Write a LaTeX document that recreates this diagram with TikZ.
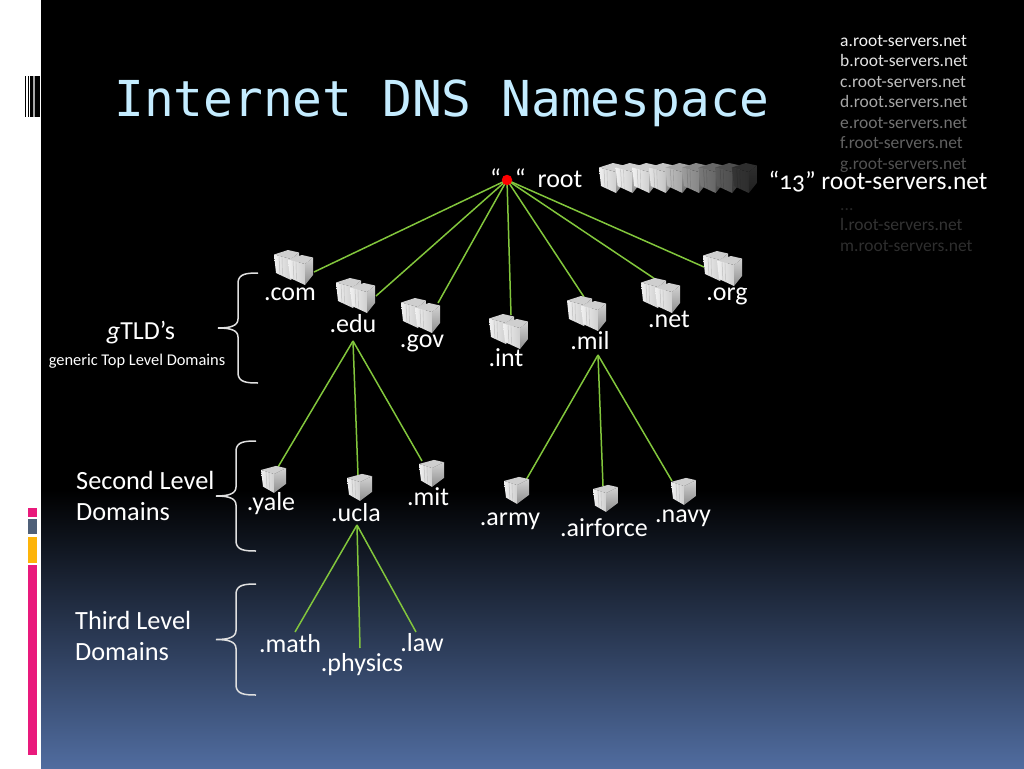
\documentclass[tikz,border=0pt]{standalone}
\usepackage{fontspec}
\setmainfont[Numbers=OldStyle]{Carlito}
\newfontfamily\titlefont{DejaVu Sans Mono}
\begin{document}
\definecolor{titleblue}{HTML}{C4ECFF}
\definecolor{linkgreen}{HTML}{82C63C}
\definecolor{panelblue}{HTML}{506C9F}
\definecolor{barpink}{HTML}{E91A7C}
\definecolor{barslate}{HTML}{4F6079}
\definecolor{baramber}{HTML}{FDB40A}
\definecolor{baseA}{HTML}{F0F0F0}
\definecolor{baseB}{HTML}{D2D2D2}
\definecolor{baseC}{HTML}{8E8E8E}
\definecolor{baseD}{HTML}{CFCFCF}
\definecolor{baseE}{HTML}{BEBEBE}
% x, y, yscale, fade, left extent, back offset, right extent
\newcommand{\srvcube}[7]{%
  \begin{scope}[shift={(#1,#2)},yscale=#3]
    \colorlet{cubeA}{black!#4!baseA}
    \colorlet{cubeB}{black!#4!baseB}
    \colorlet{cubeC}{black!#4!baseC}
    \colorlet{cubeD}{black!#4!baseD}
    \colorlet{cubeE}{black!#4!baseE}
    \fill[cubeD] (0,0) -- (-#5,-4.5) -- (#6,-9) -- (#7,-6.5) -- cycle;
    \shade[left color=cubeA,right color=cubeD] (0,0) -- (-#5,-4.5) -- ({-#5+2},14) -- (0,21) -- cycle;
    \shade[top color=cubeB,bottom color=cubeC] (0,0) -- (#7,-6.5) -- (#7,11) -- (0,21) -- cycle;
    \draw[cubeE,line width=.5pt] ({-#5+5},-2.5) -- ({-#5+6},16);
    \draw[cubeE,line width=.4pt] ({-#5+8},-2) -- ({-#5+8.5},17);
  \end{scope}}
\newcommand{\srvdouble}[2]{\srvcube{#1-14}{#2-5}{1}{0}{17}{-3}{8}\srvcube{#1}{#2}{1}{0}{17}{-3}{8}}
\newcommand{\srvsingle}[2]{\srvcube{#1}{#2}{.9}{0}{13}{2}{12}}
\newcommand{\bracepath}[3]{% x, ytop, ybottom
  \draw[bracestyle] (#1+20,#2) .. controls (#1+8,#2) and (#1+1,#2+1) .. (#1,#2+9)
    -- (#1,{(#2+#3)/2-9}) .. controls (#1,{(#2+#3)/2-2}) and (#1-8,{(#2+#3)/2}) .. (#1-20,{(#2+#3)/2})
    .. controls (#1-8,{(#2+#3)/2}) and (#1,{(#2+#3)/2+2}) .. (#1,{(#2+#3)/2+9})
    -- (#1,#3-9) .. controls (#1+1,#3-1) and (#1+8,#3) .. (#1+20,#3);}
\begin{tikzpicture}[x=1pt,y=-1pt,
  bracestyle/.style={draw=white!88!black,line width=1.5pt},
  link/.style={draw=linkgreen,line width=1.5pt},
  lab/.style={text=white,font=\fontsize{26}{26}\selectfont,inner sep=0pt,anchor=base},
  sidelab/.style={text=white,font=\fontsize{26.3}{31}\selectfont,inner sep=0pt,align=left,anchor=west},
  smalllab/.style={text=white,font=\fontsize{16.4}{16}\selectfont,inner sep=0pt,anchor=base},
  listlab/.style={font=\fontsize{17.5}{17}\selectfont,inner sep=0pt,anchor=base west},
  titlelab/.style={text=titleblue,font=\titlefont\fontsize{49.5}{50}\selectfont,inner sep=0pt,anchor=base west}]
\useasboundingbox (0,0) rectangle (1024,768);
% background
\fill[white] (0,0) rectangle (1024,768);
\fill[black] (41,0) rectangle (1024,490);
\shade[top color=black,bottom color=panelblue] (41,490) rectangle (1024,768);
% left decoration
\fill[black] (25,76) rectangle (26,117);
\fill[black] (28,76) rectangle (29,117);
\fill[black] (30,76) rectangle (33,117);
\fill[gray!70] (33,76) rectangle (35,117);
\fill[black] (35,76) rectangle (40,117);
\fill[barpink] (28,508) rectangle (37,517);
\fill[barslate] (28,519) rectangle (37,534);
\fill[baramber] (28,537) rectangle (37,563);
\fill[barpink] (28,565) rectangle (37,755);
% title
\node[titlelab] (title) at (114,116) {Internet DNS Namespace};
% server list
\node[listlab,text=white!95!black] (la) at (840,46) {a.root-servers.net};
\node[listlab,text=black!12] (lb) at (840,66.5) {b.root-servers.net};
\node[listlab,text=black!25] (lc) at (840,87) {c.root-servers.net};
\node[listlab,text=black!35] (ld) at (840,107.5) {d.root.servers.net};
\node[listlab,text=black!55] (le) at (840,128) {e.root-servers.net};
\node[listlab,text=black!62] (lf) at (840,148.5) {f.root-servers.net};
\node[listlab,text=black!68] (lg) at (840,169) {g.root-servers.net};
\node[listlab,text=black!85] (ldots) at (840,210) {...};
\node[listlab,text=black!80] (ll) at (840,230.5) {l.root-servers.net};
\node[listlab,text=black!82] (lm) at (840,251) {m.root-servers.net};
\node[lab,font=\fontsize{25.5}{26}\selectfont] (thirteen) at (878,189) {“13” root-servers.net};
% connector ends
\coordinate (rootc) at (507,180);
\coordinate (ecom) at (314,272);
\coordinate (eedu) at (376,296);
\coordinate (egov) at (438,303);
\coordinate (eint) at (511,315);
\coordinate (emil) at (584,297);
\coordinate (enet) at (658,281);
\coordinate (eorg) at (704,267);
\coordinate (aedu) at (353,341);
\coordinate (eyale) at (278,467);
\coordinate (eucla) at (358,475);
\coordinate (emit) at (422,461);
\coordinate (amil) at (598,355);
\coordinate (earmy) at (526,480);
\coordinate (eair) at (603,486);
\coordinate (enavy) at (672,481);
\coordinate (aucla) at (357,525);
\coordinate (emath) at (295,632);
\coordinate (ephys) at (360,648);
\coordinate (elaw) at (416,632);
% connectors
\foreach \e in {ecom,eedu,egov,eint,emil,enet,eorg} \draw[link] (rootc) -- (\e);
\foreach \e in {eyale,eucla,emit} \draw[link] (aedu) -- (\e);
\foreach \e in {earmy,eair,enavy} \draw[link] (amil) -- (\e);
\foreach \e in {emath,ephys,elaw} \draw[link] (aucla) -- (\e);
% root
\node[circle,inner sep=0pt,minimum size=10.5pt,fill=red,draw=none] (root) at (rootc) {};
\node[lab] (quotes) at (508,187) {“\hspace{14pt}“};
\node[lab] (rootlab) at (560,187) {root};
% root servers
\foreach \i/\f in {0/0,1/0,2/0,3/5,4/20,5/35,6/50,7/62,8/78}
  {\srvcube{616+16.6*\i}{172}{1}{\f}{17}{-3}{8}}
% servers
\srvdouble{305}{264}
\srvdouble{367}{292}
\srvdouble{432}{312}
\srvdouble{520}{328}
\srvdouble{598}{310}
\srvdouble{672}{292}
\srvdouble{734}{265}
\srvsingle{274}{474}
\srvsingle{360}{482}
\srvsingle{432}{468}
\srvsingle{517}{485}
\srvsingle{606}{493}
\srvsingle{684}{486}
% tld labels
\node[lab] (com) at (290,300) {.com};
\node[lab] (edu) at (353,332) {.edu};
\node[lab] (gov) at (422,347) {.gov};
\node[lab] (int) at (506,366) {.int};
\node[lab] (mil) at (590,349) {.mil};
\node[lab] (net) at (669,327) {.net};
\node[lab] (org) at (727,300) {.org};
\node[lab] (yale) at (271,510) {.yale};
\node[lab] (ucla) at (356,521) {.ucla};
\node[lab] (mit) at (428,505) {.mit};
\node[lab] (army) at (510,525) {.army};
\node[lab] (airforce) at (604,536) {.airforce};
\node[lab] (navy) at (683,522) {.navy};
\node[lab] (math) at (290,652) {.math};
\node[lab] (physics) at (362,671) {.physics};
\node[lab] (law) at (422,651) {.law};
% side labels
\node[lab] (gtld) at (141,339) {\textit{g}TLD’s};
\node[smalllab] (generic) at (137,365) {generic Top Level Domains};
\node[sidelab] (second) at (76,496) {Second Level\\Domains};
\node[sidelab] (third) at (75,636) {Third Level\\Domains};
% braces
\bracepath{238}{273}{383}
\bracepath{236}{441}{551}
\bracepath{236}{584}{695}
\end{tikzpicture}
\end{document}
